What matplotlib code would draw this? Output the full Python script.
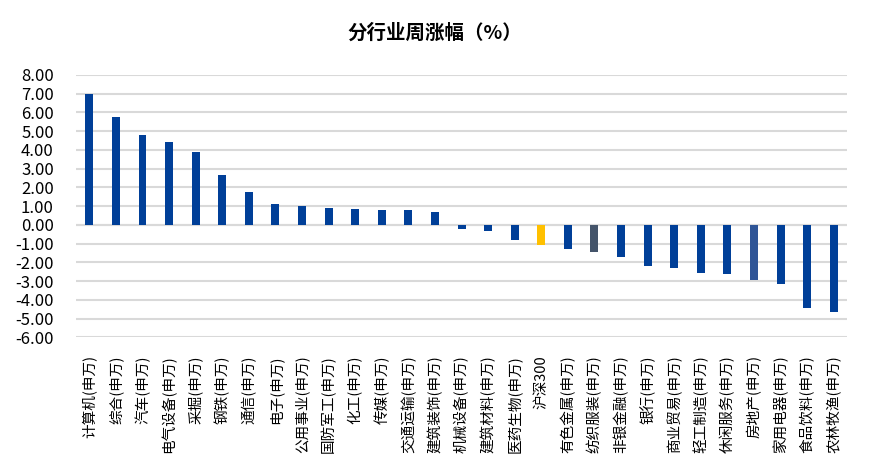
import matplotlib
matplotlib.use("Agg")
import matplotlib.pyplot as plt
from matplotlib.ticker import MultipleLocator, FormatStrFormatter

plt.rcParams["font.family"] = ["Noto Sans CJK SC", "DejaVu Sans"]

# Data
industries = [
    "计算机(申万)", "综合(申万)", "汽车(申万)", "电气设备(申万)", "采掘(申万)",
    "钢铁(申万)", "通信(申万)", "电子(申万)", "公用事业(申万)", "国防军工(申万)",
    "化工(申万)", "传媒(申万)", "交通运输(申万)", "建筑装饰(申万)", "机械设备(申万)",
    "建筑材料(申万)", "医药生物(申万)", "沪深300", "有色金属(申万)", "纺织服装(申万)",
    "非银金融(申万)", "银行(申万)", "商业贸易(申万)", "轻工制造(申万)", "休闲服务(申万)",
    "房地产(申万)", "家用电器(申万)", "食品饮料(申万)", "农林牧渔(申万)",
]
weekly_change = [
    6.96, 5.76, 4.80, 4.42, 3.89,
    2.66, 1.75, 1.11, 1.00, 0.89,
    0.84, 0.78, 0.78, 0.68, -0.21,
    -0.34, -0.82, -1.07, -1.28, -1.44,
    -1.71, -2.19, -2.30, -2.57, -2.62,
    -2.94, -3.16, -4.44, -4.65,
]

# Colors
main_color = "#003F98"
special_colors = {"沪深300": "#FFC000", "纺织服装(申万)": "#44546A", "房地产(申万)": "#2F5597"}
colors = [special_colors.get(name, main_color) for name in industries]

fig = plt.figure(figsize=(8.7, 4.74), dpi=100)
ax = fig.add_axes([0.0874, 0.2884, 0.8862, 0.5534])

x = range(len(industries))
ax.bar(x, weekly_change, width=0.3, color=colors, zorder=3)

ax.set_xlim(-0.5, len(industries) - 0.5)
ax.set_ylim(-6, 8)
ax.yaxis.set_major_locator(MultipleLocator(1))
ax.yaxis.set_major_formatter(FormatStrFormatter("%.2f"))
ax.grid(axis="y", color="#D9D9D9", linewidth=1.5, zorder=0)
ax.axhline(0, color="#D9D9D9", linewidth=1.5, zorder=1)

for spine in ax.spines.values():
    spine.set_visible(False)

ax.set_xticks(list(x))
ax.set_xticklabels(industries, rotation=90, fontsize=10.5, va="top")
ax.tick_params(axis="x", length=0, pad=13)
ax.tick_params(axis="y", length=0, pad=16, labelsize=12)

fig.text(0.5, 0.93, "分行业周涨幅（%）", ha="center", va="center", fontsize=14, fontweight="bold")

plt.savefig("out.png", dpi=100)
